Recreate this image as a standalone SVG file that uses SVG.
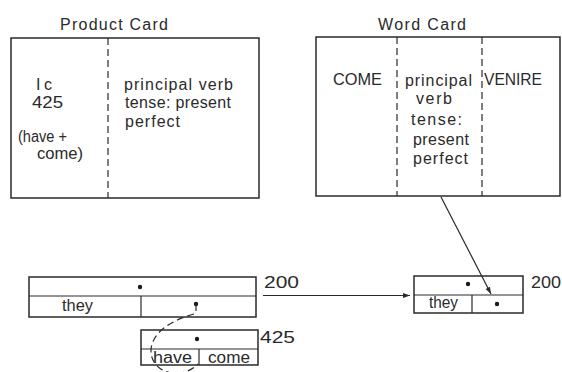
<svg xmlns="http://www.w3.org/2000/svg" width="562" height="372" viewBox="0 0 562 372">
<style>
text{font-family:"Liberation Sans","Noto Sans",Arial,sans-serif;font-size:16px;fill:#2a2a2a}
.box{fill:none;stroke:#2a2a2a;stroke-width:1.5}
.dash{fill:none;stroke:#2a2a2a;stroke-width:1.2;stroke-dasharray:7,4}
.ln{fill:none;stroke:#2a2a2a;stroke-width:1.2}
.dot{fill:#1a1a1a}
</style>
<defs>
<marker id="ah" viewBox="0 0 10 10" refX="10" refY="5" markerWidth="7" markerHeight="7" orient="auto" markerUnits="userSpaceOnUse">
<path d="M0,1.5 L10,5 L0,8.5 Z" fill="#2a2a2a"/>
</marker>
</defs>
<rect width="562" height="372" fill="#ffffff"/>
<g id="product-card">
<text x="60" y="30" textLength="108" lengthAdjust="spacing">Product Card</text>
<rect class="box" x="11" y="38" width="248" height="160"/>
<line class="dash" x1="108" y1="38" x2="108" y2="198"/>
<text x="36" y="90" textLength="16" lengthAdjust="spacing">Ic</text>
<text x="32" y="108" textLength="31" lengthAdjust="spacingAndGlyphs">425</text>
<text x="18" y="142" textLength="49" lengthAdjust="spacingAndGlyphs">(have +</text>
<text x="37" y="159" textLength="46" lengthAdjust="spacingAndGlyphs">come)</text>
<text x="124" y="90" textLength="109" lengthAdjust="spacing">principal verb</text>
<text x="125" y="108" textLength="106" lengthAdjust="spacing">tense: present</text>
<text x="125" y="127" textLength="55" lengthAdjust="spacing">perfect</text>
</g>
<g id="word-card">
<text x="378" y="30" textLength="88" lengthAdjust="spacing">Word Card</text>
<rect class="box" x="316" y="37" width="244" height="159"/>
<line class="dash" x1="397" y1="37" x2="397" y2="196"/>
<line class="dash" x1="482" y1="37" x2="482" y2="196"/>
<text x="333" y="85" textLength="49" lengthAdjust="spacingAndGlyphs">COME</text>
<text x="405" y="86" textLength="67" lengthAdjust="spacing">principal</text>
<text x="416" y="104" textLength="36" lengthAdjust="spacing">verb</text>
<text x="411" y="125" textLength="51" lengthAdjust="spacing">tense:</text>
<text x="413" y="145" textLength="56" lengthAdjust="spacing">present</text>
<text x="413" y="164" textLength="55" lengthAdjust="spacing">perfect</text>
<text x="484" y="85" textLength="58" lengthAdjust="spacingAndGlyphs">VENIRE</text>
</g>
<g id="record-left">
<rect class="box" x="29" y="277" width="227" height="40"/>
<line class="ln" x1="29" y1="296" x2="256" y2="296"/>
<line class="ln" x1="141" y1="296" x2="141" y2="317"/>
<circle class="dot" cx="140" cy="287" r="2.2"/>
<circle class="dot" cx="196" cy="304" r="2.2"/>
<text x="62" y="311" textLength="31" lengthAdjust="spacingAndGlyphs">they</text>
<text x="264" y="288" textLength="35" lengthAdjust="spacingAndGlyphs">200</text>
</g>
<g id="record-425">
<rect class="box" x="141" y="330" width="117" height="35"/>
<line class="ln" x1="141" y1="349" x2="258" y2="349"/>
<line class="ln" x1="199" y1="349" x2="199" y2="365"/>
<circle class="dot" cx="197" cy="339" r="2.2"/>
<text x="153" y="363" textLength="39" lengthAdjust="spacingAndGlyphs">have</text>
<text x="208" y="363" textLength="42" lengthAdjust="spacingAndGlyphs">come</text>
<text x="260" y="343" textLength="35" lengthAdjust="spacingAndGlyphs">425</text>
</g>
<g id="record-right">
<rect class="box" x="414" y="276" width="109" height="37"/>
<line class="ln" x1="414" y1="295" x2="523" y2="295"/>
<line class="ln" x1="472" y1="295" x2="472" y2="313"/>
<circle class="dot" cx="468" cy="284" r="2.2"/>
<circle class="dot" cx="497" cy="304" r="2.2"/>
<text x="429" y="308" textLength="29" lengthAdjust="spacingAndGlyphs">they</text>
<text x="531" y="288" textLength="30" lengthAdjust="spacingAndGlyphs">200</text>
</g>
<g id="connectors">
<line class="ln" x1="263" y1="295.5" x2="410" y2="295.5" marker-end="url(#ah)"/>
<line class="ln" x1="441" y1="197" x2="491" y2="294" marker-end="url(#ah)"/>
<line class="ln" x1="196" y1="304" x2="196" y2="311"/>
<path class="dash" d="M194,314 C172,320 152,332 151,350 C150,372 180,382 198,364"/>
</g>
</svg>
